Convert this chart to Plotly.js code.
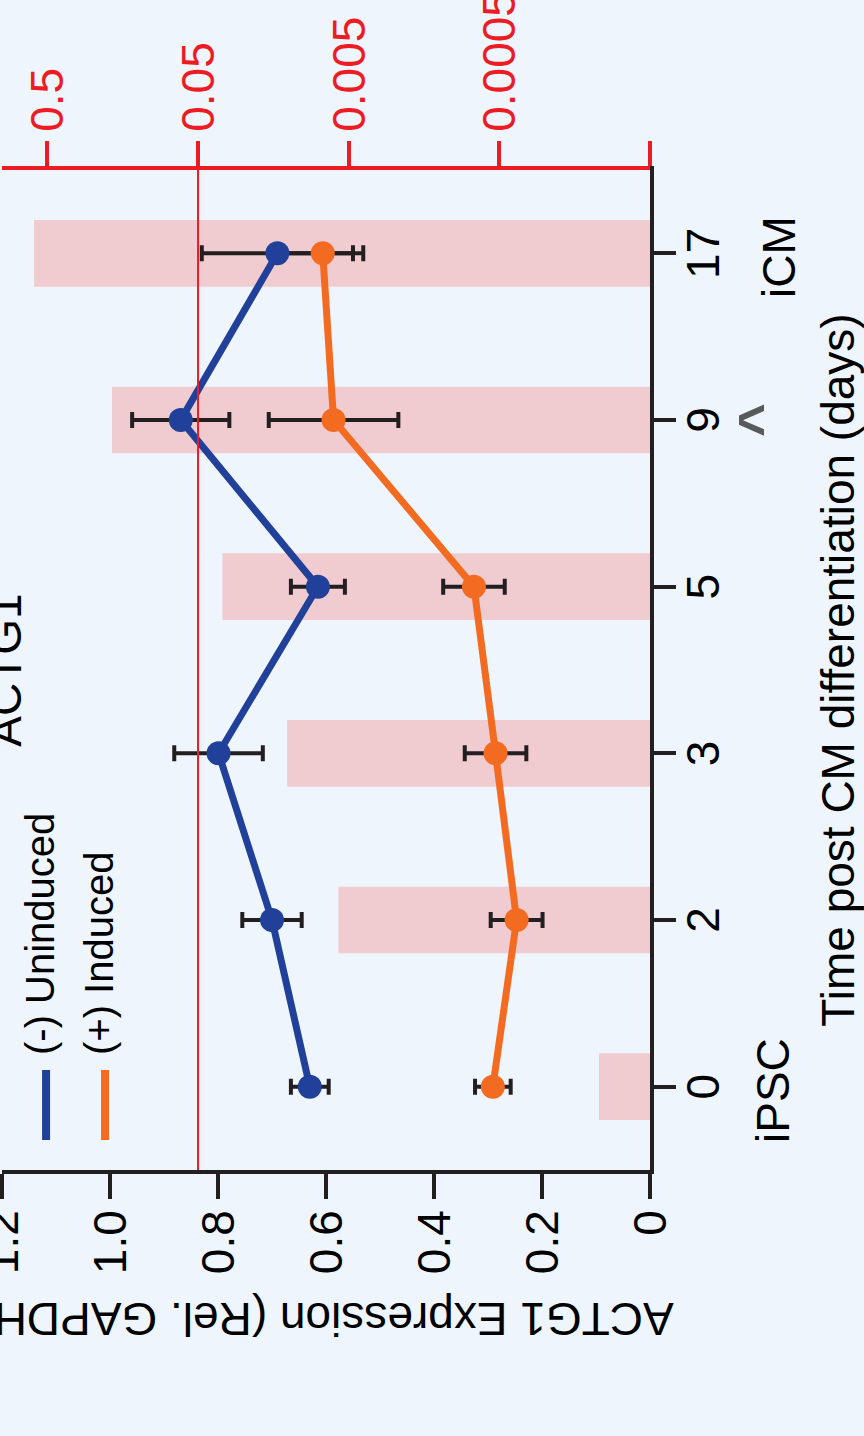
<!DOCTYPE html>
<html>
<head>
<meta charset="utf-8">
<script src="https://cdn.plot.ly/plotly-3.0.1.min.js"></script>
<style>
html, body { margin:0; padding:0; width:864px; height:1436px; overflow:hidden; background:#eff5fc; }
#chart { position:absolute; left:0; top:0; width:1436px; height:924px;
  transform-origin:0 0; transform:translate(-60px,1436px) rotate(-90deg); }
</style>
</head>
<body>
<div id="chart"></div>
<script>
// ---- data ----
const days = ['0', '2', '3', '5', '9', '17'];
const uninduced = [0.630, 0.700, 0.799, 0.615, 0.869, 0.690];
const uninducedErr = [0.035, 0.055, 0.082, 0.050, 0.090, 0.140];
const induced = [0.291, 0.247, 0.286, 0.326, 0.586, 0.606];
const inducedErr = [0.033, 0.048, 0.057, 0.057, 0.120, 0.075];
const barValues = [0.000109, 0.00585, 0.0128, 0.0344, 0.186, 0.612];
const threshold = 0.05;
const leftTickVals = [0, 0.2, 0.4, 0.6, 0.8, 1.0, 1.2];
const leftTickText = ['0', '0.2', '0.4', '0.6', '0.8', '1.0', '1.2'];
const rightTickVals = [0.00005, 0.0005, 0.005, 0.05, 0.5];
const rightTickText = ['', '0.0005', '0.005', '0.05', '0.5'];
const seriesNames = ['(-) Uninduced', '(+) Induced'];
const stageDays = ['0', '17'];
const stageLabels = ['iPSC', 'iCM'];
const inductionDay = '9';

const BLUE = '#21409a', ORANGE = '#f36b21', RED = '#ed1c24', INK = '#231f20';
const FONT = 'Liberation Sans, Arial, Helvetica, sans-serif';

const errStyle = arr => ({type:'data', array: arr, visible:true, color: INK, thickness: 4, width: 8});

const traces = [
  {type:'bar', x: days, y: barValues, yaxis:'y', width:0.4,
   marker:{color:'#f0cbd0'}, showlegend:false, hoverinfo:'skip'},
  {type:'scatter', mode:'markers', x: days, y: uninduced, yaxis:'y2',
   marker:{size:1, color:'rgba(0,0,0,0)'}, error_y: errStyle(uninducedErr), showlegend:false, hoverinfo:'skip'},
  {type:'scatter', mode:'markers', x: days, y: induced, yaxis:'y2',
   marker:{size:1, color:'rgba(0,0,0,0)'}, error_y: errStyle(inducedErr), showlegend:false, hoverinfo:'skip'},
  {type:'scatter', mode:'lines', x: days, y: uninduced, yaxis:'y2', name: seriesNames[0],
   line:{color:BLUE, width:7}, showlegend:false},
  {type:'scatter', mode:'lines', x: days, y: induced, yaxis:'y2', name: seriesNames[1],
   line:{color:ORANGE, width:7}, showlegend:false},
  {type:'scatter', mode:'markers', x: days, y: uninduced, yaxis:'y2', name: seriesNames[0],
   marker:{size:24, color:BLUE}, showlegend:false},
  {type:'scatter', mode:'markers', x: days, y: induced, yaxis:'y2', name: seriesNames[1],
   marker:{size:24, color:ORANGE}, showlegend:false}
];

// stage labels and induction marker below the day axis
const annotations = [];
const stageShift = [0, -6];
stageDays.forEach((d, i) => {
  annotations.push({x: days.indexOf(d), xref:'x', y: -0.19, yref:'paper', text: stageLabels[i], showarrow:false,
    xanchor:'center', yanchor:'middle', xshift:-4, yshift: stageShift[i], font:{family:FONT, size:46, color:'#000'}});
});
annotations.push({x: days.indexOf(inductionDay), xref:'x', y: -0.151, yref:'paper', text:'<b>^</b>', showarrow:false,
  xanchor:'center', yanchor:'middle', yshift:-10, font:{family:FONT, size:58, color:'#58595b'}});

// legend (line keys + labels), top-left of the plot
const legendColors = [BLUE, ORANGE];
const legendY = [0.932, 0.841];
const shapes = [{type:'line', xref:'paper', x0:0, x1:1, yref:'y', y0:threshold, y1:threshold,
                 line:{color:RED, width:2}}];
seriesNames.forEach((name, i) => {
  shapes.push({type:'line', xref:'paper', yref:'paper', x0:0.030, x1:0.100, y0:legendY[i], y1:legendY[i],
               line:{color:legendColors[i], width:8}});
  annotations.push({xref:'paper', yref:'paper', x:0.113, y:legendY[i], text:name, showarrow:false,
    xanchor:'left', yanchor:'middle', yshift:6, font:{family:FONT, size:40, color:'#000'}});
});

const layout = {
  width:1436, height:924,
  margin:{l:266, r:170, t:62, b:214, pad:0},
  paper_bgcolor:'#eff5fc', plot_bgcolor:'#eff5fc',
  font:{family:FONT, size:46, color:'#000'},
  title:{text:'ACTG1', font:{family:FONT, size:46, color:'#000'},
         xref:'paper', x:0.5, xanchor:'center', yref:'container', y:1 - 49/924, yanchor:'top'},
  showlegend:false,
  xaxis:{type:'category', categoryorder:'array', categoryarray: days, range:[-0.5, 5.5],
         showline:true, linecolor:INK, linewidth:4, ticks:'outside', ticklen:22, tickwidth:4, tickcolor:INK,
         ticklabelstandoff:-12, showgrid:false, zeroline:false, tickfont:{size:46, color:'#000'},
         title:{text:'Time post CM differentiation (days)', standoff:105, font:{size:46, color:'#000'}}},
  yaxis:{type:'log', side:'right', range:[Math.log10(5e-5), 0],
         showline:true, linecolor:RED, linewidth:4, ticks:'outside', ticklen:25, tickwidth:4, tickcolor:RED,
         tickvals: rightTickVals, ticktext: rightTickText, ticklabelstandoff:0,
         tickfont:{size:46, color:RED}, showgrid:false, zeroline:false},
  yaxis2:{overlaying:'y', side:'left', range:[0, 1.2],
         showline:true, linecolor:INK, linewidth:4, ticks:'outside', ticklen:25, tickwidth:4, tickcolor:INK,
         tickvals: leftTickVals, ticktext: leftTickText, ticklabelstandoff:2,
         tickfont:{size:46, color:'#000'}, showgrid:false, zeroline:false,
         title:{text:'ACTG1 Expression (Rel. GAPDH)', standoff:15, font:{size:46, color:'#000'}}},
  shapes: shapes,
  annotations: annotations
};

Plotly.newPlot('chart', traces, layout, {staticPlot:true, displayModeBar:false});
</script>
</body>
</html>
